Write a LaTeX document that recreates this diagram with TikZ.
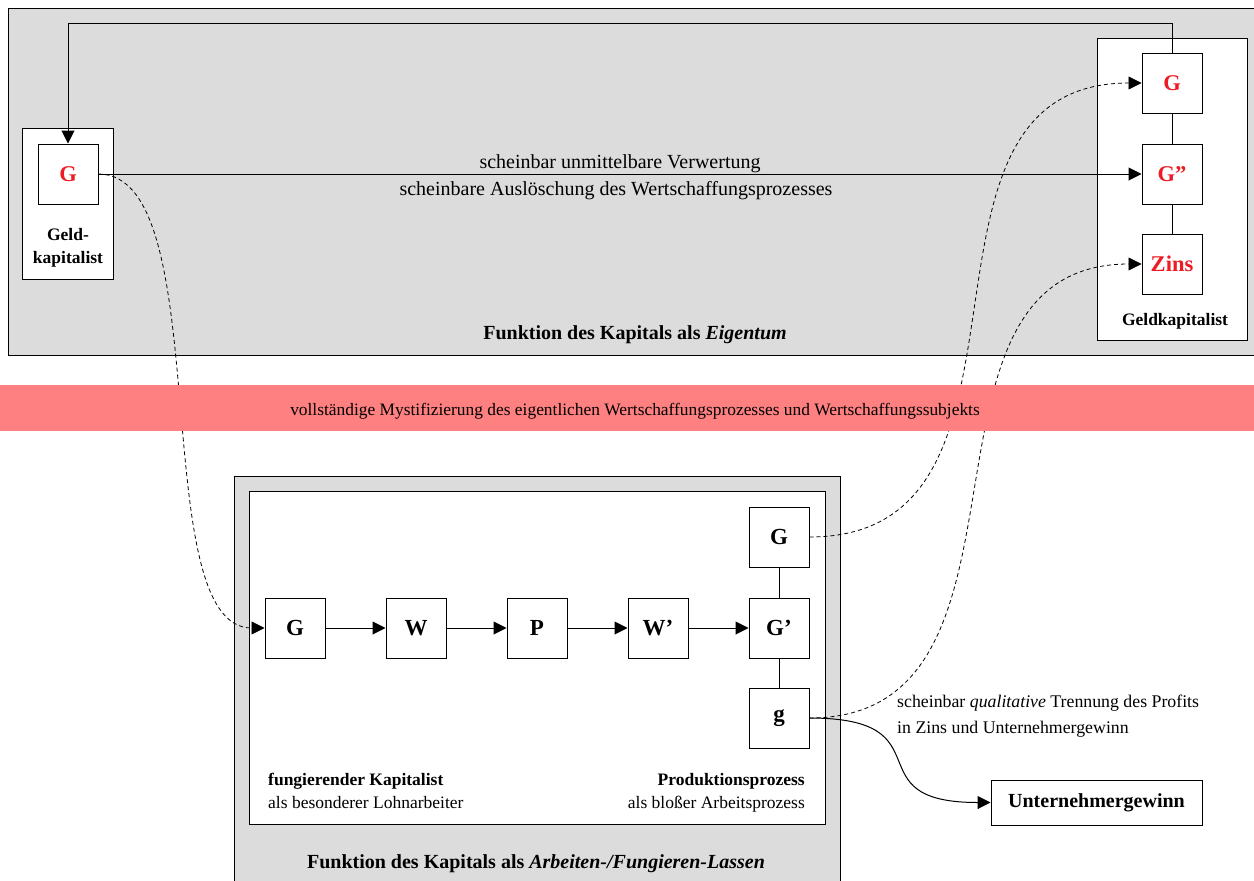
\documentclass[tikz,border=0pt]{standalone}
\usepackage{fontspec}
\setmainfont{Liberation Serif}
\usetikzlibrary{arrows.meta}
\definecolor{bggray}{RGB}{220,220,220}
\definecolor{bandred}{RGB}{255,128,128}
\definecolor{redtxt}{RGB}{237,28,36}
\begin{document}
\begin{tikzpicture}[x=1pt,y=-1pt,
  frame/.style={draw, line width=1pt},
  box/.style={draw, fill=white, minimum width=60pt, minimum height=60pt, inner sep=0pt, line width=1pt, font=\fontsize{23}{27}\selectfont\bfseries},
  rbox/.style={box, text=redtxt, font=\fontsize{22.5}{26}\selectfont\bfseries},
  arr/.style={-{Triangle[length=13pt,width=13pt]}, line width=1pt},
  dsh/.style={-{Triangle[length=13pt,width=13pt]}, line width=0.8pt, dash pattern=on 4pt off 3pt},
  plain/.style={line width=1pt},
  lbl/.style={inner sep=0pt, font=\fontsize{20}{24}\selectfont},
  ttl/.style={inner sep=0pt, font=\fontsize{20}{24}\selectfont\bfseries},
  small/.style={inner sep=0pt, font=\fontsize{17.5}{23}\selectfont},
  smallb/.style={inner sep=0pt, font=\fontsize{17.5}{23}\selectfont\bfseries},
  bandtxt/.style={inner sep=0pt, font=\fontsize{17.4}{20}\selectfont}
]
\useasboundingbox (0,0) rectangle (1254,881);
% containers
\draw[frame, fill=bggray] (8,8) rectangle (1270,355);
\draw[frame, fill=white] (22,128) rectangle (113,279);
\draw[frame, fill=white] (1097,38) rectangle (1247,340);
\draw[frame, fill=bggray] (234,476) rectangle (840,900);
\draw[frame, fill=white] (249,491) rectangle (825,824);

% nodes
\node[rbox] (lG) at (68,174) {G};
\node[rbox] (rG) at (1172,83) {G};
\node[rbox] (rGG) at (1172,174) {G''};
\node[rbox] (rZ) at (1172,264) {Zins};
\node[box] (bG) at (295,628) {G};
\node[box] (bW) at (416,628) {W};
\node[box] (bP) at (537,628) {P};
\node[box] (bWp) at (658,628) {W'};
\node[box] (bGp) at (779,628) {G'};
\node[box] (bGt) at (779,537) {G};
\node[box] (bg) at (779,718) {g};
\node[draw, fill=white, line width=1pt, minimum width=211pt, minimum height=45pt, inner sep=0pt, font=\fontsize{20}{24}\selectfont\bfseries] (ug) at (1096.5,802.5) {Unternehmergewinn};

% connectors
\coordinate (loopc) at (68,23);
\draw[arr] (rG.north) |- (loopc) -- (lG.north);
\draw[arr] (lG.east) -- (rGG.west);
\draw[plain] (rG) -- (rGG);
\draw[plain] (rGG) -- (rZ);
\draw[arr] (bG) -- (bW);
\draw[arr] (bW) -- (bP);
\draw[arr] (bP) -- (bWp);
\draw[arr] (bWp) -- (bGp);
\draw[plain] (bGt) -- (bGp);
\draw[plain] (bGp) -- (bg);
\draw[dsh] (lG.east) .. controls +(120,0) and +(-120,0) .. (bG.west);
\draw[dsh] (bGt.east) .. controls +(258,0) and +(-258,0) .. (rG.west);
\draw[dsh] (bg.east) .. controls +(250,0) and +(-250,0) .. (rZ.west);
\draw[arr] (bg.east) .. controls +(140,0) and +(-140,0) .. (ug.west);

% band
\fill[bandred] (0,385) rectangle (1254,431);
\node[bandtxt, anchor=base] (bandlbl) at (635,415) {vollständige Mystifizierung des eigentlichen Wertschaffungsprozesses und Wertschaffungssubjekts};

% texts
\node[lbl, anchor=base] (t1) at (620,168) {scheinbar unmittelbare Verwertung};
\node[lbl, anchor=base] (t2) at (616,195) {scheinbare Auslöschung des Wertschaffungsprozesses};
\node[ttl, anchor=base] (t3) at (635,339) {Funktion des Kapitals als \textit{Eigentum}};
\node[smallb, anchor=base, align=center] (t4) at (68,263) {Geld-\\kapitalist};
\node[smallb, anchor=base] (t5) at (1175,325) {Geldkapitalist};
\node[small, anchor=base west, align=left] (t6) at (268,808) {\textbf{fungierender Kapitalist}\\als besonderer Lohnarbeiter};
\node[small, anchor=base east, align=right] (t7) at (805,808) {\textbf{Produktionsprozess}\\als bloßer Arbeitsprozess};
\node[ttl, anchor=base] (t8) at (536,868) {Funktion des Kapitals als \textit{Arbeiten-/Fungieren-Lassen}};
\node[small, anchor=base west, align=left, font=\fontsize{17.8}{26}\selectfont] (t9) at (897,733) {scheinbar \textit{qualitative} Trennung des Profits\\in Zins und Unternehmergewinn};
\end{tikzpicture}
\end{document}
